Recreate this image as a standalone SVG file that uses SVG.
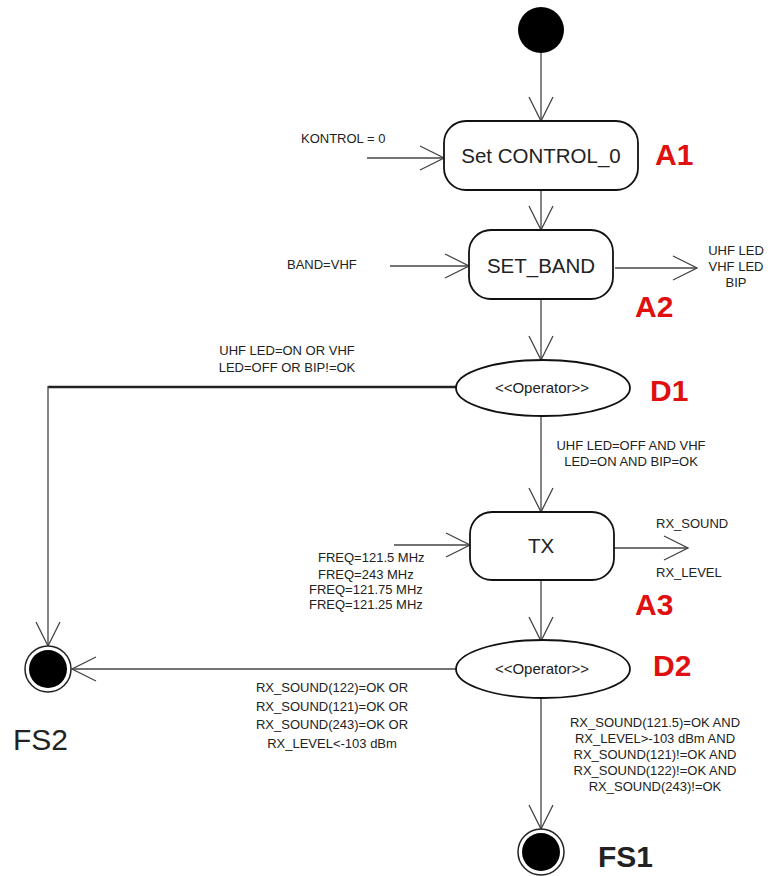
<svg xmlns="http://www.w3.org/2000/svg" width="776" height="876" viewBox="0 0 776 876">
<style>
text{font-family:"Liberation Sans",Arial,sans-serif;fill:#222}
.s{font-size:13px}
.c{text-anchor:middle}
.big{font-size:20.5px}
.op{font-size:15px}
.lbl{font-size:30px;font-weight:bold;fill:#e01010}
.fs{font-size:30px}
.box{fill:#fff;stroke:#111;stroke-width:1.8}
.con{fill:none;stroke:#444;stroke-width:1.3}
</style>
<defs>
<marker id="open" viewBox="0 0 26 26" refX="25" refY="13" markerWidth="26" markerHeight="26" markerUnits="userSpaceOnUse" orient="auto">
<path d="M1,1 L25,13 L1,25" fill="none" stroke="#444" stroke-width="1.3"/>
</marker>
</defs>
<rect width="776" height="876" fill="#fff"/>

<g id="connectors">
<line class="con" x1="541" y1="53" x2="541" y2="121" marker-end="url(#open)"/>
<line class="con" x1="367" y1="158" x2="444" y2="158" marker-end="url(#open)"/>
<line class="con" x1="541" y1="190" x2="541" y2="230" marker-end="url(#open)"/>
<line class="con" x1="390" y1="266" x2="469" y2="266" marker-end="url(#open)"/>
<line class="con" x1="615" y1="268" x2="697" y2="268" marker-end="url(#open)"/>
<line class="con" x1="541" y1="299" x2="541" y2="360" marker-end="url(#open)"/>
<polyline points="456,387 48,387" fill="none" stroke="#222" stroke-width="2.6"/>
<line class="con" x1="48" y1="386" x2="48" y2="646" marker-end="url(#open)"/>
<line class="con" x1="541" y1="416" x2="541" y2="512" marker-end="url(#open)"/>
<line class="con" x1="394" y1="545" x2="470" y2="545" marker-end="url(#open)"/>
<line class="con" x1="614" y1="548" x2="688" y2="548" marker-end="url(#open)"/>
<line class="con" x1="541" y1="580" x2="541" y2="641" marker-end="url(#open)"/>
<line class="con" x1="456" y1="669" x2="72" y2="669" marker-end="url(#open)"/>
<line class="con" x1="541" y1="698" x2="541" y2="829" marker-end="url(#open)"/>
</g>

<g id="start"><circle cx="541" cy="30" r="23" fill="#000"/></g>

<g id="A1">
<rect class="box" x="444" y="121" width="194" height="69" rx="22"/>
<text class="big c" x="541" y="163">Set CONTROL_0</text>
<text class="lbl" x="655" y="165">A1</text>
</g>
<text class="s" x="301" y="143">KONTROL = 0</text>

<g id="A2">
<rect class="box" x="469" y="230" width="144" height="69" rx="22"/>
<text class="big c" x="541" y="273">SET_BAND</text>
<text class="lbl" x="635" y="317">A2</text>
</g>
<text class="s" x="287" y="269">BAND=VHF</text>
<text class="s c" x="736" y="255">UHF LED</text>
<text class="s c" x="736" y="271">VHF LED</text>
<text class="s c" x="736" y="287">BIP</text>

<g id="D1">
<ellipse class="box" cx="543" cy="388" rx="87" ry="28"/>
<text class="op c" x="542" y="393">&lt;&lt;Operator&gt;&gt;</text>
<text class="lbl" x="650" y="401">D1</text>
</g>
<text class="s c" x="287" y="355">UHF LED=ON OR VHF</text>
<text class="s c" x="287" y="372">LED=OFF OR BIP!=OK</text>
<text class="s c" x="631" y="450">UHF LED=OFF AND VHF</text>
<text class="s c" x="631" y="466">LED=ON AND BIP=OK</text>

<g id="A3">
<rect class="box" x="470" y="512" width="144" height="68" rx="22"/>
<text class="big c" x="541" y="553">TX</text>
<text class="lbl" x="635" y="615">A3</text>
</g>
<text class="s" x="318" y="562">FREQ=121.5 MHz</text>
<text class="s" x="318" y="579">FREQ=243 MHz</text>
<text class="s" x="309" y="594">FREQ=121.75 MHz</text>
<text class="s" x="309" y="609">FREQ=121.25 MHz</text>
<text class="s" x="656" y="528">RX_SOUND</text>
<text class="s" x="656" y="577">RX_LEVEL</text>

<g id="D2">
<ellipse class="box" cx="543" cy="669" rx="87" ry="29"/>
<text class="op c" x="542" y="674">&lt;&lt;Operator&gt;&gt;</text>
<text class="lbl" x="653" y="676">D2</text>
</g>
<text class="s c" x="332" y="692">RX_SOUND(122)=OK OR</text>
<text class="s c" x="332" y="711">RX_SOUND(121)=OK OR</text>
<text class="s c" x="332" y="729">RX_SOUND(243)=OK OR</text>
<text class="s c" x="332" y="748">RX_LEVEL&lt;-103 dBm</text>
<text class="s c" x="655" y="727">RX_SOUND(121.5)=OK AND</text>
<text class="s c" x="655" y="743">RX_LEVEL&gt;-103 dBm AND</text>
<text class="s c" x="655" y="759">RX_SOUND(121)!=OK AND</text>
<text class="s c" x="655" y="775">RX_SOUND(122)!=OK AND</text>
<text class="s c" x="655" y="791">RX_SOUND(243)!=OK</text>

<g id="FS2">
<circle cx="48" cy="669" r="23" fill="#fff" stroke="#222" stroke-width="1.5"/>
<circle cx="48" cy="669" r="19" fill="#000"/>
<text class="fs" x="13" y="750">FS2</text>
</g>

<g id="FS1">
<circle cx="541" cy="852" r="23" fill="#fff" stroke="#222" stroke-width="1.5"/>
<circle cx="541" cy="852" r="19" fill="#000"/>
<text class="fs" x="598" y="867" font-weight="bold">FS1</text>
</g>
</svg>
